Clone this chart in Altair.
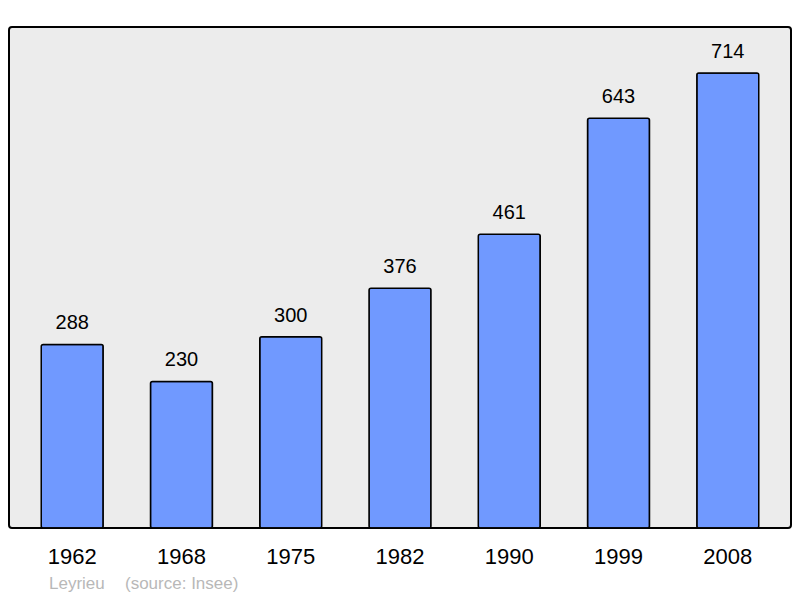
import altair as alt
import pandas as pd

years = ["1962", "1968", "1975", "1982", "1990", "1999", "2008"]
population = [288, 230, 300, 376, 461, 643, 714]
place = "Leyrieu"
source = "(source: Insee)"

df = pd.DataFrame({"year": years, "pop": population})

x = alt.X("year:N", sort=years,
          scale=alt.Scale(paddingInner=0.433, paddingOuter=0.295),
          axis=alt.Axis(title=None, ticks=False, domain=False, labelAngle=0,
                        labelFontSize=22, labelFont="Liberation Sans",
                        labelColor="black", labelPadding=18))
y = alt.Y("pop:Q", scale=alt.Scale(domain=[0, 786], nice=False, zero=True),
          axis=None)

bars = alt.Chart(df).mark_bar(color="#7099ff", stroke="black", strokeWidth=1.5,
                              cornerRadius=2).encode(x=x, y=y)

labels = alt.Chart(df).mark_text(dy=-15, fontSize=20, font="Liberation Sans",
                                 color="black", baseline="alphabetic").encode(
    x=alt.X("year:N", sort=years), y="pop:Q", text="pop:Q")

src1 = alt.Chart(pd.DataFrame({"t": [place]})).mark_text(
    align="left", baseline="alphabetic", fontSize=17, font="Liberation Sans",
    color="#b8b8b8").encode(x=alt.value(40), y=alt.value(562), text="t:N")
src2 = alt.Chart(pd.DataFrame({"t": [source]})).mark_text(
    align="left", baseline="alphabetic", fontSize=17, font="Liberation Sans",
    color="#b8b8b8").encode(x=alt.value(116), y=alt.value(562), text="t:N")

chart = alt.layer(bars, labels, src1, src2).properties(
    width=782, height=501,
    autosize=alt.AutoSizeParams(type="none"),
    padding={"left": 1, "top": 19, "right": 1, "bottom": 70},
    background="white",
).configure_view(stroke="black", strokeWidth=2, fill="#ececec", cornerRadius=3)

chart.save("out.html", embed_options={"renderer": "svg", "actions": False})
